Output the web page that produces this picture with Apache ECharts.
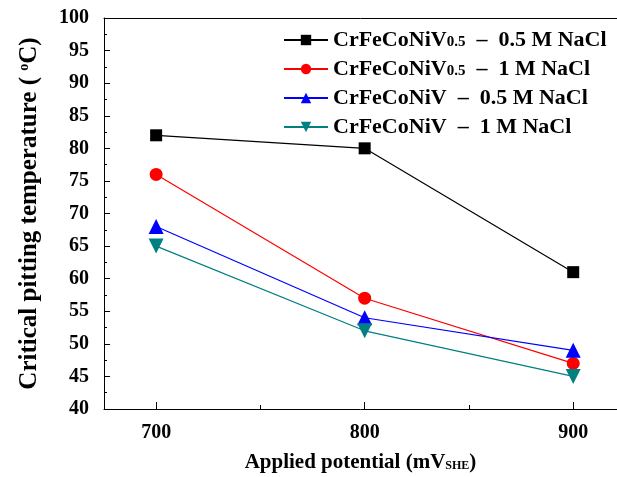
<!DOCTYPE html>
<html><head><meta charset="utf-8">
<script src="https://cdn.jsdelivr.net/npm/echarts@6/dist/echarts.min.js"></script>
<style>html,body{margin:0;padding:0;background:#fff}#c{width:617px;height:477px}</style>
</head><body><div id="c"></div>
<script>
const potentials = [700, 800, 900];
const v05_05M = [82, 80, 61];
const v05_1M = [76, 57, 47];
const v1_05M = [68, 54, 49];
const v1_1M = [65, 52, 45];
const xTickLabels = [700, 800, 900];
const xMinorTicks = [750, 850];
const seriesNames = ['V05_05', 'V05_1', 'V1_05', 'V1_1'];
const legendText = {
  V05_05: '{b|CrFeCoNiV}{s|0.5}{b|  \u2013  0.5 M NaCl}',
  V05_1: '{b|CrFeCoNiV}{s|0.5}{b|  \u2013  1 M NaCl}',
  V1_05: '{b|CrFeCoNiV  \u2013  0.5 M NaCl}',
  V1_1: '{b|CrFeCoNiV  \u2013  1 M NaCl}'
};
const FONT = '"Liberation Serif", "Times New Roman", serif';
const chart = echarts.init(document.getElementById('c'));
function pts(arr){ return potentials.map((p,i)=>[p, arr[i]]); }
const commonX = {type:'value', min:675, max:921, gridIndex:0};
chart.setOption({
  animation:false,
  grid:{left:104, top:18, bottom:68, right:0, show:false, outerBoundsMode:'none', containLabel:false},
  legend:{
    orient:'vertical', left:278, top:24, itemWidth:44, itemHeight:13, itemGap:7,
    data:seriesNames,
    formatter:n=>legendText[n],
    textStyle:{fontFamily:FONT, rich:{
      b:{fontFamily:FONT, fontWeight:'bold', fontSize:22, color:'#000'},
      s:{fontFamily:FONT, fontWeight:'bold', fontSize:15, color:'#000', padding:[5,0,0,0]}
    }}
  },
  xAxis:[
    Object.assign({}, commonX, {
      position:'bottom',
      name:'{b|Applied potential (mV}{s|SHE}{b|)}', nameLocation:'middle', nameGap:43,
      nameTextStyle:{rich:{
        b:{fontFamily:FONT, fontWeight:'bold', fontSize:21, color:'#000'},
        s:{fontFamily:FONT, fontWeight:'bold', fontSize:12, color:'#000', padding:[6,0,0,0]}
      }},
      axisLine:{show:true, onZero:false, lineStyle:{color:'#000', width:1}},
      axisTick:{show:true, inside:true, length:7, customValues:xTickLabels, lineStyle:{color:'#000'}},
      axisLabel:{customValues:xTickLabels, margin:14, fontFamily:FONT, fontWeight:'bold', fontSize:20, color:'#000'},
      splitLine:{show:false}
    }),
    Object.assign({}, commonX, {
      position:'bottom',
      axisLine:{show:false, onZero:false},
      axisTick:{show:true, inside:true, length:4, customValues:xMinorTicks, lineStyle:{color:'#000'}},
      axisLabel:{show:false},
      splitLine:{show:false}
    }),
    Object.assign({}, commonX, {
      position:'top',
      axisLine:{show:true, onZero:false, lineStyle:{color:'#000', width:1}},
      axisTick:{show:false},
      axisLabel:{show:false},
      splitLine:{show:false}
    })
  ],
  yAxis:{
    type:'value', min:40, max:100, interval:5,
    name:'{b|Critical pitting temperature ( }{sup|o}{b|C)}', nameLocation:'middle', nameGap:62, nameRotate:90,
    nameTextStyle:{rich:{
      b:{fontFamily:FONT, fontWeight:'bold', fontSize:25, color:'#000'},
      sup:{fontFamily:FONT, fontWeight:'bold', fontSize:14, color:'#000', padding:[0,0,10,0]}
    }},
    axisLine:{show:true, onZero:false, lineStyle:{color:'#000', width:1}},
    axisTick:{show:true, inside:true, length:6, lineStyle:{color:'#000'}},
    minorTick:{show:true, splitNumber:2, length:3, lineStyle:{color:'#000'}},
    axisLabel:{margin:15, fontFamily:FONT, fontWeight:'bold', fontSize:20, color:'#000'},
    splitLine:{show:false}
  },
  series:[
    {name:'V05_05', type:'line', data:pts(v05_05M), symbol:'rect', symbolSize:12, color:'#000', lineStyle:{width:1.2}},
    {name:'V05_1', type:'line', data:pts(v05_1M), symbol:'circle', symbolSize:13, color:'#ff0000', lineStyle:{width:1.2}},
    {name:'V1_05', type:'line', data:pts(v1_05M), symbol:'triangle', symbolSize:15, color:'#0000ff', lineStyle:{width:1.2}},
    {name:'V1_1', type:'line', data:pts(v1_1M), symbol:'triangle', symbolRotate:180, symbolSize:15, color:'#008080', lineStyle:{width:1.2}}
  ]
});
</script></body></html>
